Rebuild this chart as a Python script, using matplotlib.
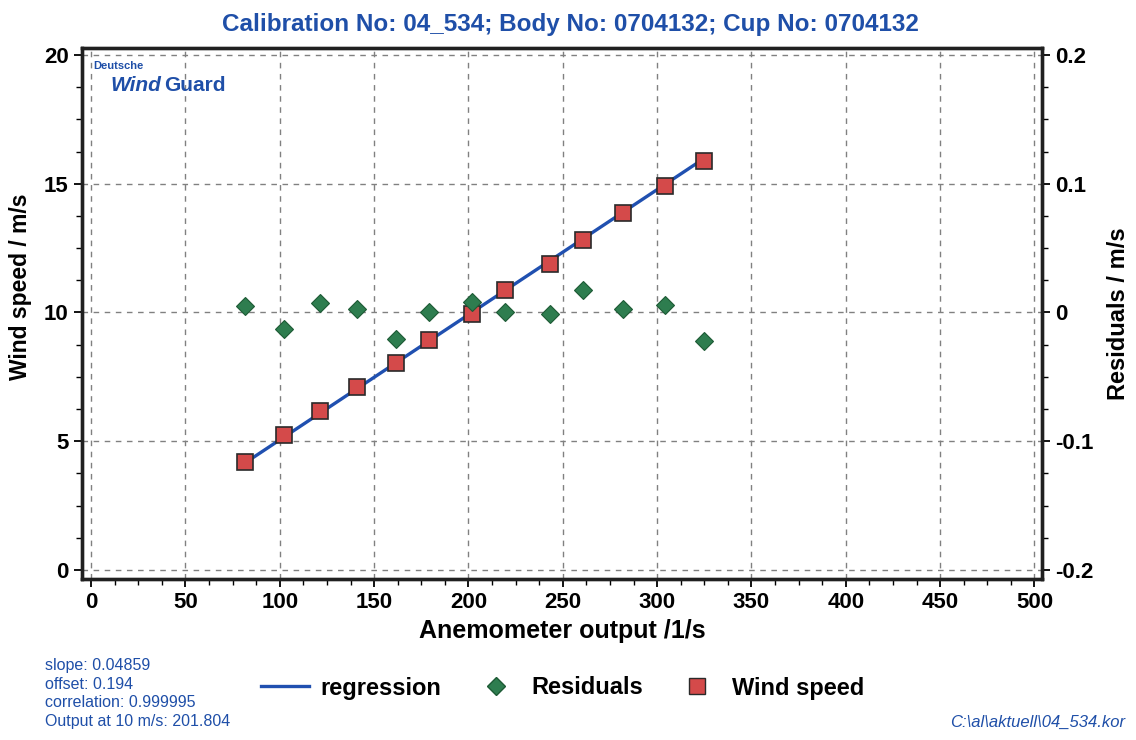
import numpy as np
import matplotlib.pyplot as plt
from matplotlib.ticker import MultipleLocator, AutoMinorLocator
from matplotlib.lines import Line2D

# measured calibration points
output = [81.7, 102.2, 121.2, 141.0, 161.5, 179.1, 202.0, 219.4, 243.2, 260.6, 281.7, 304.0, 325.1]
wind_speed = [4.21, 5.26, 6.19, 7.09, 8.04, 8.94, 9.95, 10.88, 11.89, 12.82, 13.86, 14.90, 15.90]
residuals = [0.0047, -0.0127, 0.0073, 0.0029, -0.0205, 0.0, 0.008, 0.0, -0.0013, 0.0177, 0.0026, 0.006, -0.0223]

slope = 0.04859
offset = 0.194
stats = ["slope: 0.04859", "offset: 0.194", "correlation: 0.999995", "Output at 10 m/s: 201.804"]

fnt = ['Liberation Sans Narrow', 'Liberation Sans', 'DejaVu Sans']
blue = '#1f4fa8'

fig = plt.figure(figsize=(11.36, 7.40), dpi=100)
ax = fig.add_axes([81.7/1136, 1-579/740, (1042-81.7)/1136, (579-48)/740])
ax2 = ax.twinx()

reg_x = np.array([output[0], output[-1]])
ax.plot(reg_x, slope*reg_x + offset, color='#2050b0', lw=2.4, zorder=3)
ax.plot(output, wind_speed, ls='none', marker='s', ms=11, mfc='#d44a4a', mec='#2a2a2a', mew=1.2, zorder=4)
ax2.plot(output, residuals, ls='none', marker='D', ms=9, mfc='#2e7d4f', mec='#1d5a35', mew=0.8, zorder=4)

ax.set_xlim(-5, 504)
ax.set_ylim(-0.35, 20.27)
ax2.set_ylim((-0.35-10)*0.02, (20.27-10)*0.02)

ax.xaxis.set_major_locator(MultipleLocator(50))
ax.xaxis.set_minor_locator(AutoMinorLocator(4))
ax.yaxis.set_major_locator(MultipleLocator(5))
ax.yaxis.set_minor_locator(AutoMinorLocator(4))
ax2.set_yticks([-0.2, -0.1, 0, 0.1, 0.2])
ax2.set_yticklabels(['-0.2', '-0.1', '0', '0.1', '0.2'])
ax2.yaxis.set_minor_locator(AutoMinorLocator(4))

ax.grid(True, which='major', ls=(0, (4, 4)), color='#808080', lw=1.0)
for a in (ax, ax2):
    for s in a.spines.values():
        s.set_linewidth(2.4)
        s.set_color('#202020')
    a.tick_params(which='major', length=6, width=1.3, labelsize=16, direction='out')
    a.tick_params(which='minor', length=4, width=1.0, direction='out')
    for lab in a.get_xticklabels() + a.get_yticklabels():
        lab.set_family(fnt)
        lab.set_fontweight('bold')

ax.set_xlabel('Anemometer output /1/s', family=fnt, fontweight='bold', fontsize=18, labelpad=4)
ax.set_ylabel('Wind speed / m/s', family=fnt, fontweight='bold', fontsize=16.5, labelpad=6)
ax.yaxis.set_label_coords(-0.052, 0.55)
ax2.set_ylabel('Residuals / m/s', family=fnt, fontweight='bold', fontsize=17, labelpad=10)

fig.text(570/1136, 1-25/740, 'Calibration No: 04_534; Body No: 0704132; Cup No: 0704132',
         ha='center', va='center', color=blue, fontsize=17.5, fontweight='bold', family=fnt)

# logo
ax.text(0.012, 0.975, 'Deutsche', transform=ax.transAxes, color=blue, fontsize=8, fontweight='bold', va='top', family=fnt)
ax.text(0.030, 0.948, 'Wind', transform=ax.transAxes, color=blue, fontsize=15, fontweight='bold', style='italic', va='top', family=fnt)
ax.text(0.0855, 0.948, 'Guard', transform=ax.transAxes, color=blue, fontsize=15, fontweight='bold', va='top', family=fnt)

fig.text(45/1136, 1-658/740, '\n'.join(stats), color=blue, fontsize=11.5, va='top', ha='left',
         family=fnt, linespacing=1.3)
fig.text(1125/1136, 1-722/740, r'C:\al\aktuell\04_534.kor', color=blue, fontsize=12, style='italic',
         ha='right', va='center', family=fnt)

handles = [Line2D([], [], color='#2050b0', lw=2.4),
           Line2D([], [], ls='none', marker='D', ms=9, mfc='#2e7d4f', mec='#1d5a35'),
           Line2D([], [], ls='none', marker='s', ms=11, mfc='#d44a4a', mec='#2a2a2a')]
fig.legend(handles, ['regression', 'Residuals', 'Wind speed'], loc='center',
           bbox_to_anchor=(563/1136, 1-688/740), ncol=3, frameon=False,
           prop={'family': fnt, 'weight': 'bold', 'size': 17}, columnspacing=1.3,
           handlelength=2.0, handletextpad=0.5)

fig.savefig('out.png', dpi=100)
